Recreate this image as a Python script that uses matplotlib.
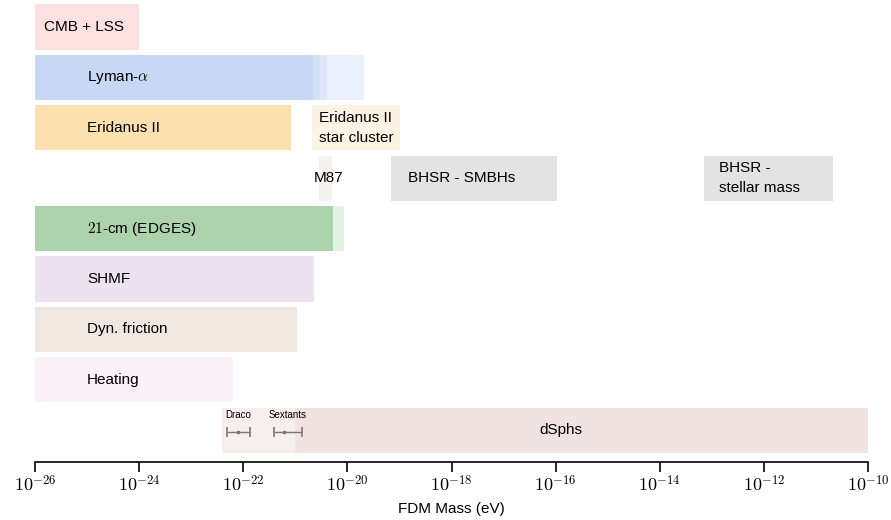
import numpy as np
import matplotlib
matplotlib.use("Agg")
import matplotlib.pyplot as plt
from matplotlib.ticker import FixedLocator, FuncFormatter, NullLocator

plt.rcParams['font.family'] = ['Liberation Sans', 'DejaVu Sans']
plt.rcParams['mathtext.fontset'] = 'cm'

# bounds in log10(eV); row index from top
# (label, row, lo, hi, color, label_x)
main_bars = [
    ("CMB + LSS", 0, -26.0, -24.0, '#fde1e1', -25.83),
    ("Lyman-$\\alpha$", 1, -26.0, -20.66, '#c6d8f4', -25.0),
    ("Eridanus II", 2, -26.0, -21.08, '#fde0b0', -25.0),
    ("$21$-cm (EDGES)", 4, -26.0, -20.28, '#acd3ac', -25.0),
    ("SHMF", 5, -26.0, -20.64, '#ece2f0', -25.0),
    ("Dyn. friction", 6, -26.0, -20.97, '#f0e7e1', -25.0),
    ("Heating", 7, -26.0, -22.2, '#fbf1f8', -25.0),
]

# weaker / extended bounds drawn lighter, no label
extra_bars = [
    (1, -20.66, -20.53, '#d3e1f7'),
    (1, -20.53, -20.40, '#dfe8f9'),
    (1, -20.40, -19.68, '#ebf1fc'),
    (4, -20.28, -20.06, '#e3f2e3'),
    (8, -22.41, -21.0, '#f7eeee'),
]

other_bars = [
    ("Eridanus II\nstar cluster", 2, -20.68, -18.99, '#fdf3e4', -20.55, 'left'),
    ("M87", 3, -20.54, -20.29, '#f6f2ee', -20.36, 'center'),
    ("BHSR - SMBHs", 3, -19.16, -15.97, '#e3e3e3', -18.83, 'left'),
    ("BHSR -\nstellar mass", 3, -13.15, -10.67, '#e3e3e3', -12.86, 'left'),
    ("dSphs", 8, -21.0, -10.0, '#f2e3e3', -15.9, 'center'),
]

# individual dwarf galaxy constraints (log10 eV): center, low, high
dwarf_names = ["Draco", "Sextants"]
dwarf_mid = [-22.10, -21.22]
dwarf_lo = [-22.31, -21.41]
dwarf_hi = [-21.87, -20.87]

fig = plt.figure(figsize=(8.91, 5.2), dpi=100)
ax = fig.add_axes([35 / 891, 1 - 462 / 520, (868 - 35) / 891, 462 / 520])

h = 0.9
for label, row, lo, hi, c, tx in main_bars:
    ax.barh(row, 10**hi - 10**lo, left=10**lo, height=h, color=c, linewidth=0)
    ax.text(10**tx, row, label, ha='left', va='center', fontsize=11)

for row, lo, hi, c in extra_bars:
    ax.barh(row, 10**hi - 10**lo, left=10**lo, height=h, color=c, linewidth=0)

for label, row, lo, hi, c, tx, ha in other_bars:
    ax.barh(row, 10**hi - 10**lo, left=10**lo, height=h, color=c, linewidth=0)
    ax.text(10**tx, row, label, ha=ha, va='center', fontsize=11,
            linespacing=1.5)

for name, m, lo, hi in zip(dwarf_names, dwarf_mid, dwarf_lo, dwarf_hi):
    ax.errorbar([10**m], [8.03], xerr=[[10**m - 10**lo], [10**hi - 10**m]],
                fmt='s', ms=2, color='#777777', ecolor='#777777',
                elinewidth=1, capsize=3.5, capthick=1.2)
    ax.text(10**((lo + hi) / 2), 7.8, name, ha='center', va='bottom',
            fontsize=7)

ax.set_xscale('log')
ax.set_xlim(1e-26, 1e-10)
ax.set_ylim((462 - 27) / 50.4, -27 / 50.4)

ax.xaxis.set_major_locator(FixedLocator(10.0**np.arange(-26, -9, 2)))
ax.xaxis.set_minor_locator(NullLocator())
ax.xaxis.set_major_formatter(FuncFormatter(
    lambda v, p: '$10^{%d}$' % int(round(np.log10(v)))))
ax.tick_params(axis='x', direction='out', length=7, width=1.2,
               labelsize=13, pad=2)
ax.set_yticks([])
for s in ['top', 'left', 'right']:
    ax.spines[s].set_visible(False)
ax.spines['bottom'].set_linewidth(1.2)
ax.set_xlabel('FDM Mass (eV)', fontsize=11, labelpad=5)

fig.savefig('out.png', dpi=100)
